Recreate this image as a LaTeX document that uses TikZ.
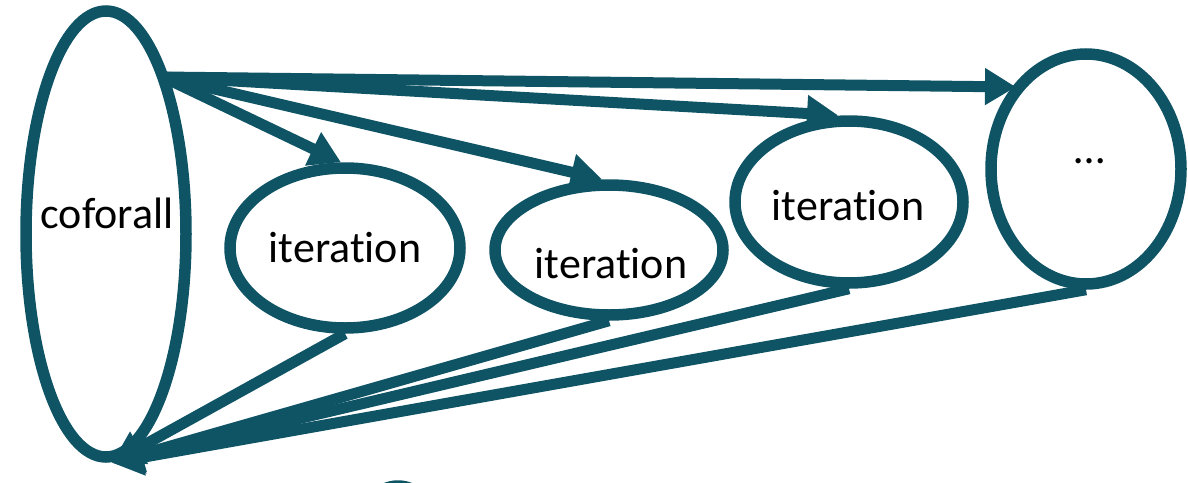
\documentclass[tikz,border=0pt]{standalone}
\usepackage{fontspec}
\setmainfont{Carlito}[Ligatures={NoCommon,NoRare}]
\usetikzlibrary{shapes.geometric,arrows.meta}
\definecolor{edgeteal}{HTML}{0F5465}
\begin{document}
\begin{tikzpicture}[x=1pt,y=-1pt,
  bubble/.style={ellipse,draw=edgeteal,line width=11.5pt,inner sep=0pt},
  lbl/.style={anchor=base,inner sep=0pt,font=\fontsize{44}{50}\selectfont},
  link/.style={draw=edgeteal,line width=11pt,-{Triangle[length=31pt,width=35pt]}}]
\useasboundingbox (0,0) rectangle (1188,482);

% the loop and its iterations
\node[bubble,minimum width=160pt,minimum height=446pt] (cof) at (106,234) {};
\node[bubble,minimum width=230pt,minimum height=160pt] (it1) at (345,248) {};
\node[bubble,minimum width=228pt,minimum height=130pt] (it2) at (609,250) {};
\node[bubble,minimum width=228pt,minimum height=162pt] (it3) at (849,202) {};
\node[bubble,minimum width=190pt,minimum height=230pt] (more) at (1086,169) {};
\node[bubble,circle,minimum size=64pt] (next) at (398,518) {};

% labels
\node[lbl] (tcof) at (107,228) {coforall};
\node[lbl] (tit1) at (345,262) {iteration};
\node[lbl] (tit2) at (611,278) {iteration};
\node[lbl] (tit3) at (848,220) {iteration};
\node[lbl] (tmore) at (1090,163) {…};

% fork: coforall spawns every iteration
\coordinate (fork) at (163,77);
\coordinate (moreIn) at (1016,87);
\draw[link] (fork) -- ([xshift=-4pt]it1.north);
\draw[link] (fork) -- ([xshift=-7pt]it2.north);
\draw[link] (fork) -- ([xshift=-11pt]it3.north);
\draw[link] (fork) -- (moreIn);

% join: every iteration returns to coforall
\coordinate (join) at ([xshift=6pt]cof.south);
\draw[link] (it1.south) -- (join);
\draw[link] (it2.south) -- (join);
\draw[link] (it3.south) -- (join);
\draw[link] (more.south) -- (join);
\end{tikzpicture}
\end{document}
